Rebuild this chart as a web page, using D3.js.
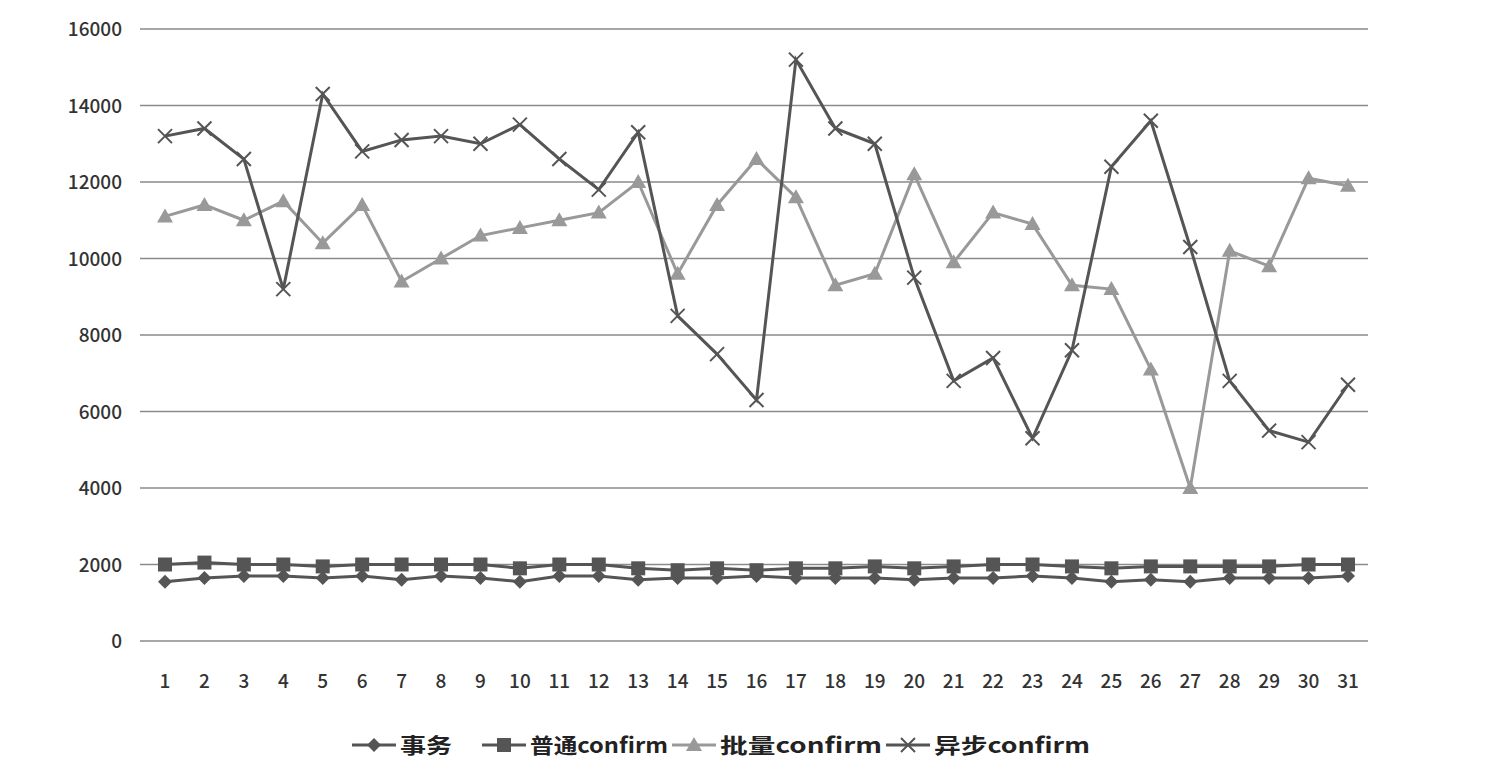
<!DOCTYPE html><html><head><meta charset="utf-8"><script src="https://cdn.jsdelivr.net/npm/d3@7"></script>
<style>body{margin:0;background:#fff}</style></head><body><svg id="c" width="1506" height="784"></svg>
<script>
const days=d3.range(1,32);
const yTicks=[0,2000,4000,6000,8000,10000,12000,14000,16000];
const shiwu=[1550,1650,1700,1700,1650,1700,1600,1700,1650,1550,1700,1700,1600,1650,1650,1700,1650,1650,1650,1600,1650,1650,1700,1650,1550,1600,1550,1650,1650,1650,1700];
const putong=[2000,2050,2000,2000,1950,2000,2000,2000,2000,1900,2000,2000,1900,1850,1900,1850,1900,1900,1950,1900,1950,2000,2000,1950,1900,1950,1950,1950,1950,2000,2000];
const piliang=[11100,11400,11000,11500,10400,11400,9400,10000,10600,10800,11000,11200,12000,9600,11400,12600,11600,9300,9600,12200,9900,11200,10900,9300,9200,7100,4000,10200,9800,12100,11900];
const yibu=[13200,13400,12600,9200,14300,12800,13100,13200,13000,13500,12600,11800,13300,8500,7500,6300,15200,13400,13000,9500,6800,7400,5300,7600,12400,13600,10300,6800,5500,5200,6700];
const names=["事务","普通confirm","批量confirm","异步confirm"];
const svg=d3.select("#c");
const x=d3.scalePoint().domain(days).range([165,1348]);
const y=d3.scaleLinear().domain([0,16000]).range([641,29]);
const font="'Noto Sans CJK SC',sans-serif";
svg.append("g").selectAll("line").data(yTicks).join("line").attr("x1",140).attr("x2",1368).attr("y1",d=>y(d)).attr("y2",d=>y(d)).attr("stroke","#8a8a8a").attr("stroke-width",1.5);
svg.append("g").selectAll("text").data(yTicks).join("text").attr("x",122).attr("y",d=>y(d)+7).attr("text-anchor","end").attr("font-family",font).attr("font-size",19).attr("font-weight",500).attr("fill","#333").text(d=>d);
svg.append("g").selectAll("text").data(days).join("text").attr("x",d=>x(d)).attr("y",688).attr("text-anchor","middle").attr("font-family",font).attr("font-size",19).attr("font-weight",500).attr("fill","#333").text(d=>d);
const series=[{v:shiwu,c:"#555",m:"diamond"},{v:putong,c:"#555",m:"square"},{v:piliang,c:"#999",m:"triangle"},{v:yibu,c:"#555",m:"x"}];
const line=d3.line().x((d,i)=>x(days[i])).y(d=>y(d));
function marker(g,m,c){
 if(m==="diamond")g.append("path").attr("d","M0,-7L7,0L0,7L-7,0Z").attr("fill",c);
 else if(m==="square")g.append("rect").attr("x",-7).attr("y",-7).attr("width",14).attr("height",14).attr("fill",c);
 else if(m==="triangle")g.append("path").attr("d","M0,-8L8,6L-8,6Z").attr("fill",c);
 else g.append("path").attr("d","M-7,-7L7,7M-7,7L7,-7").attr("stroke",c).attr("stroke-width",2);
}
series.forEach(s=>{
 svg.append("path").datum(s.v).attr("d",line).attr("fill","none").attr("stroke",s.c).attr("stroke-width",3);
 s.v.forEach((d,i)=>marker(svg.append("g").attr("transform",`translate(${x(days[i])},${y(d)})`),s.m,s.c));
});
const lx=[352,482,672,886];
const tl=[52,138,162,156];
series.forEach((s,i)=>{
 const g=svg.append("g").attr("transform",`translate(${lx[i]},745)`);
 g.append("line").attr("x1",0).attr("x2",44).attr("stroke",s.c).attr("stroke-width",3);
 marker(g.append("g").attr("transform","translate(22,0)"),s.m,s.c);
 g.append("text").attr("x",48).attr("y",8).attr("font-family",font).attr("font-size",21).attr("font-weight",700).attr("fill","#222").attr("textLength",tl[i]).attr("lengthAdjust","spacingAndGlyphs").text(names[i]);
});
</script></body></html>
